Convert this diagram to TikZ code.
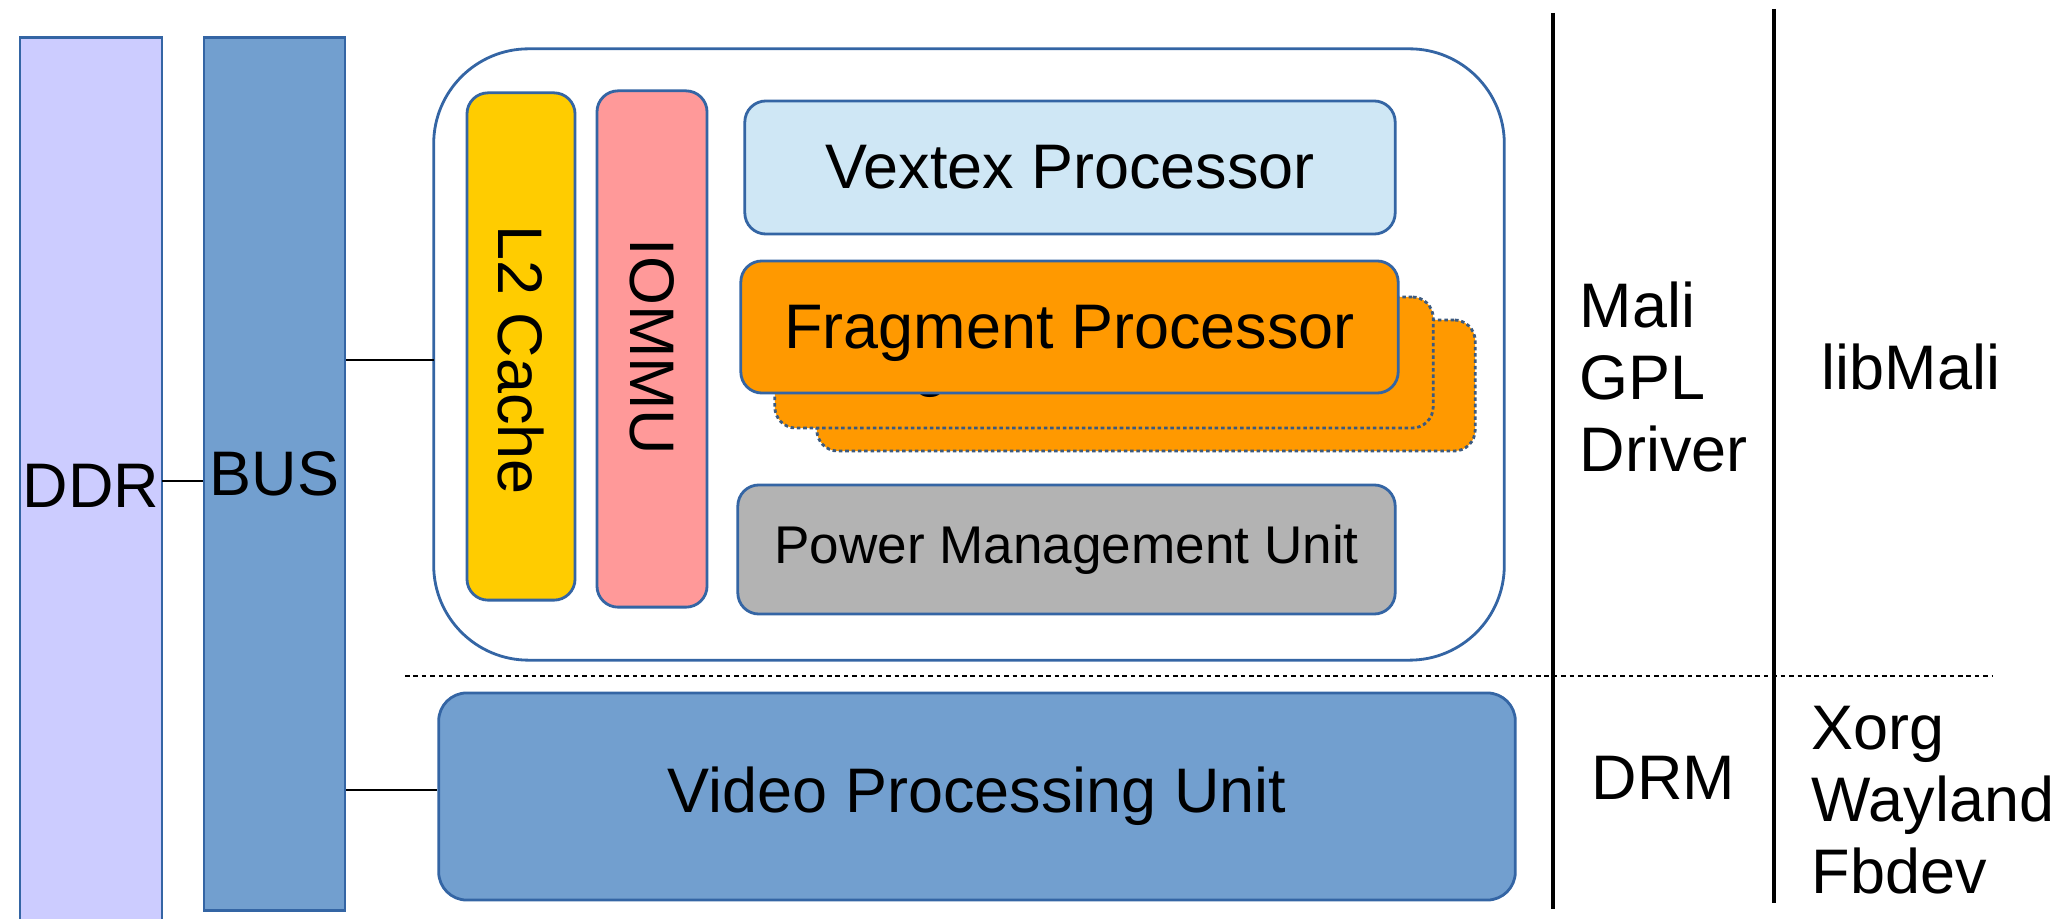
\documentclass[tikz,border=0pt]{standalone}
\usepackage{fontspec}
\setmainfont{Liberation Sans}
\definecolor{edge}{HTML}{3465A4}
\definecolor{ddrfill}{HTML}{CCCCFF}
\definecolor{busfill}{HTML}{729FCF}
\definecolor{l2fill}{HTML}{FFCC00}
\definecolor{mmufill}{HTML}{FF9999}
\definecolor{vtxfill}{HTML}{CFE7F5}
\definecolor{fragfill}{HTML}{FF9900}
\definecolor{pmufill}{HTML}{B3B3B3}
\definecolor{shadowedge}{HTML}{3B5A80}
\newcommand\bigtxt{\fontsize{17.9pt}{20.5pt}\selectfont}
\newcommand\midtxt{\fontsize{15.1pt}{18pt}\selectfont}
% one drawing unit (0.01cm) as a length
\newcommand\pxu{0.284528pt}
\begin{document}
\begin{tikzpicture}[x=0.01cm,y=-0.01cm,
  blk/.style={draw=edge, line width=0.8pt, inner sep=0pt, font=\bigtxt},
  sz/.style 2 args={minimum width=#1*\pxu, minimum height=#2*\pxu},
  card/.style={blk, rounded corners=6pt},
  ghost/.style={card, draw=shadowedge, dash pattern=on 1pt off 0.8pt},
  label/.style={inner sep=0pt, font=\bigtxt, anchor=base west, align=left},
  wire/.style={line width=0.7pt, black},
  divider/.style={line width=0.9pt, black},
  layerline/.style={line width=0.6pt, black, dash pattern=on 1.3pt off 1.1pt}]
\useasboundingbox (0,0) rectangle (2060,919);

% memory and interconnect
\node[blk, fill=ddrfill, sz={142}{896}] (ddr) at (91,486) {DDR};
\node[blk, fill=busfill, sz={141}{872}] (bus) at (274.5,474) {BUS};

% GPU block
\node[blk, rounded corners=27pt, fill=white, sz={1070}{611}] (gpu) at (969,354.5) {};
\node[card, fill=l2fill, sz={108}{507}] (l2) at (521,346.5) {};
\node[inner sep=0pt, font=\bigtxt, rotate=-90] (l2txt) at (521,360) {L2 Cache};
\node[card, fill=mmufill, sz={110}{516}] (mmu) at (652,349) {};
\node[inner sep=0pt, font=\bigtxt, rotate=-90] (mmutxt) at (652,347) {IOMMU};
\node[card, fill=vtxfill, sz={650}{133}] (vtx) at (1070,167.5) {Vextex Processor};
\node[ghost, fill=fragfill, sz={658}{131}] (frag3) at (1146,385.5) {};
\node[ghost, fill=fragfill, sz={658}{131}, text depth=0pt] (frag2) at (1104,362.5) {Fragment Processor};
\node[card, fill=fragfill, sz={657}{132}, text depth=0pt] (frag) at (1069.5,327) {Fragment Processor};
\node[card, fill=pmufill, font=\midtxt, sz={657}{129}] (pmu) at (1066.5,549.5) {Power Management Unit};

% video block
\node[blk, rounded corners=8pt, fill=busfill, sz={1076}{207}] (vpu) at (977,796.5) {Video Processing Unit};

% connections
\coordinate (gpuin) at (434,360);
\coordinate (ddrout) at (162,481);
\draw[wire] (ddrout) -- (bus.west |- ddrout);
\draw[wire] (bus.east |- gpuin) -- (gpuin);
\draw[wire] (bus.east |- 0,790) -- (vpu.west |- 0,790);

% software stack columns
\coordinate (d1t) at (1553,13);  \coordinate (d1b) at (1553,909);
\coordinate (d2t) at (1774,9);   \coordinate (d2b) at (1774,903);
\coordinate (ll) at (405,676);   \coordinate (lr) at (1993,676);
\draw[divider] (d1t) -- (d1b);
\draw[divider] (d2t) -- (d2b);
\draw[layerline] (ll) -- (lr);

\node[label] (mali) at (1579,472) {Mali\\GPL\\Driver};
\node[label] (lib) at (1821,390) {libMali};
\node[label] (drm) at (1591,800) {DRM};
\node[label] (disp) at (1811,894) {Xorg\\Wayland\\Fbdev};
\end{tikzpicture}
\end{document}
